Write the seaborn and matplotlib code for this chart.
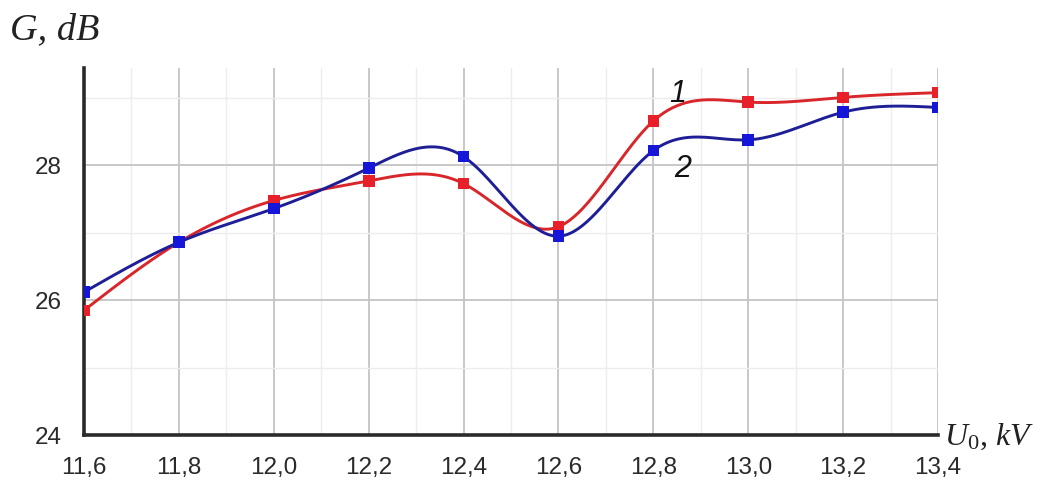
import numpy as np
import pandas as pd
import matplotlib
matplotlib.use("Agg")
import matplotlib.pyplot as plt
import seaborn as sns
from matplotlib.ticker import FixedLocator, FixedFormatter, MultipleLocator, NullFormatter

# Measured gain G (dB) versus beam voltage U0 (kV)
voltage_kv = [11.6, 11.8, 12.0, 12.2, 12.4, 12.6, 12.8, 13.0, 13.2, 13.4]
gain_curve1 = [25.85, 26.86, 27.48, 27.77, 27.73, 27.09, 28.66, 28.94, 29.01, 29.08]
gain_curve2 = [26.12, 26.86, 27.36, 27.96, 28.13, 26.95, 28.22, 28.38, 28.79, 28.86]
x_tick_values = [11.6, 11.8, 12.0, 12.2, 12.4, 12.6, 12.8, 13.0, 13.2, 13.4]
x_tick_labels = ["11,6", "11,8", "12,0", "12,2", "12,4", "12,6", "12,8", "13,0", "13,2", "13,4"]
y_tick_values = [24, 26, 28]
y_tick_labels = ["24", "26", "28"]


def natural_spline(x, y, n=400):
    """Smooth connecting curve through the measured points (natural cubic spline)."""
    x = np.asarray(x, float)
    y = np.asarray(y, float)
    k = len(x)
    h = np.diff(x)
    A = np.zeros((k, k))
    b = np.zeros(k)
    A[0, 0] = A[-1, -1] = 1.0
    for i in range(1, k - 1):
        A[i, i - 1] = h[i - 1]
        A[i, i] = 2 * (h[i - 1] + h[i])
        A[i, i + 1] = h[i]
        b[i] = 3 * ((y[i + 1] - y[i]) / h[i] - (y[i] - y[i - 1]) / h[i - 1])
    c = np.linalg.solve(A, b)
    bc = (y[1:] - y[:-1]) / h - h * (2 * c[:-1] + c[1:]) / 3
    d = (c[1:] - c[:-1]) / (3 * h)
    xs = np.linspace(x[0], x[-1], n)
    idx = np.clip(np.searchsorted(x, xs) - 1, 0, k - 2)
    dx = xs - x[idx]
    ys = y[idx] + bc[idx] * dx + c[idx] * dx ** 2 + d[idx] * dx ** 3
    return xs, ys


sns.set_theme(style="white")
plt.rcParams["font.family"] = ["Liberation Sans", "DejaVu Sans"]
plt.rcParams["mathtext.fontset"] = "custom"
plt.rcParams["mathtext.it"] = "Liberation Serif:italic"
plt.rcParams["mathtext.rm"] = "Liberation Serif"

points = pd.DataFrame({
    "U0": voltage_kv * 2,
    "G": gain_curve1 + gain_curve2,
    "curve": ["1"] * len(voltage_kv) + ["2"] * len(voltage_kv),
})

fig = plt.figure(figsize=(10.44, 4.82), dpi=100)
ax = fig.add_axes([0.0805, 0.0975, 0.818, 0.762])

line_colors = {"1": "#d8262b", "2": "#1e1e96"}
marker_colors = {"1": "#e8202a", "2": "#1616d8"}

for name, values in (("1", gain_curve1), ("2", gain_curve2)):
    xs, ys = natural_spline(voltage_kv, values)
    sns.lineplot(x=xs, y=ys, ax=ax, color=line_colors[name], lw=2.1,
                 estimator=None, sort=False, zorder=3)

sns.scatterplot(data=points, x="U0", y="G", hue="curve", palette=marker_colors,
                marker="s", s=70, linewidth=0, legend=False, ax=ax, zorder=4)

ax.set_xlim(11.6, 13.4)
ax.set_ylim(24, 29.45)
ax.xaxis.set_major_locator(FixedLocator(x_tick_values))
ax.xaxis.set_major_formatter(FixedFormatter(x_tick_labels))
ax.xaxis.set_minor_locator(MultipleLocator(0.1))
ax.yaxis.set_major_locator(FixedLocator(y_tick_values))
ax.yaxis.set_major_formatter(FixedFormatter(y_tick_labels))
ax.yaxis.set_minor_locator(MultipleLocator(1))
ax.yaxis.set_minor_formatter(NullFormatter())
ax.set_xlabel("")
ax.set_ylabel("")

ax.grid(which="major", color="#c4c4c4", lw=1.3)
ax.grid(which="minor", color="#ededed", lw=1.0)
ax.set_axisbelow(True)

for side in ("top", "right"):
    ax.spines[side].set_visible(False)
for side in ("left", "bottom"):
    ax.spines[side].set_color("#2a2a2a")
    ax.spines[side].set_linewidth(2.6)

ax.tick_params(axis="x", which="major", direction="out", length=10, width=2,
               color="#2a2a2a", labelsize=17.5, pad=6, labelcolor="#2a2a2a")
ax.tick_params(axis="x", which="minor", direction="out", length=5, width=1.6,
               color="#2a2a2a")
ax.tick_params(axis="y", which="major", direction="out", length=10, width=2,
               color="#2a2a2a", labelsize=17.5, pad=6, labelcolor="#2a2a2a")
ax.tick_params(axis="y", which="minor", direction="out", length=6, width=1.6,
               color="#2a2a2a")

ax.text(12.852, 29.06, "1", fontsize=22, style="italic", color="#111111",
        ha="center", va="center")
ax.text(12.862, 27.94, "2", fontsize=22, style="italic", color="#111111",
        ha="center", va="center")

fig.text(10 / 1044, 1 - 30 / 482, "G, dB", fontsize=27.5, style="italic",
         family="Liberation Serif", color="#222222", ha="left", va="center")
fig.text(944 / 1044, 1 - 437 / 482, r"$U_{\mathrm{0}}$, $kV$", fontsize=23,
         family="Liberation Serif", color="#222222", ha="left", va="center")

fig.savefig("out.png", dpi=100, facecolor="white")
